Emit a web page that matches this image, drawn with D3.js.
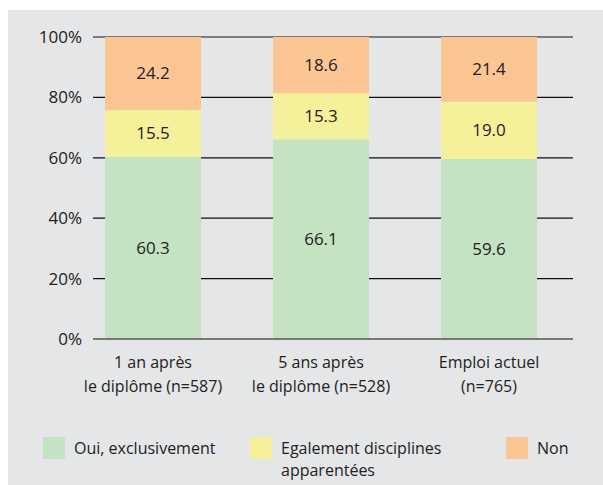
<!DOCTYPE html>
<html><head><meta charset="utf-8">
<script src="https://cdn.jsdelivr.net/npm/d3@7"></script>
<style>body{margin:0;background:#fff}svg{display:block}text{font-family:"Open Sans","Noto Sans",sans-serif;fill:#222}</style>
</head><body><svg id="c" width="603" height="485"></svg>
<script>
const categories = [["1 an après","le diplôme (n=587)"],["5 ans après","le diplôme (n=528)"],["Emploi actuel","(n=765)"]];
const seriesNames = [["Oui, exclusivement"],["Egalement disciplines","apparentées"],["Non"]];
const oui = [60.3, 66.1, 59.6];
const egalement = [15.5, 15.3, 19.0];
const non = [24.2, 18.6, 21.4];
const yTicks = [0, 20, 40, 60, 80, 100];
const colors = ["#c5e3c3", "#f5f19b", "#fcc594"];

const svg = d3.select("#c");
svg.append("rect").attr("x", 8).attr("y", 10).attr("width", 595).attr("height", 475).attr("fill", "#e5e6e8");

const y = d3.scaleLinear().domain([0, 100]).range([339, 37]);
const x = d3.scaleBand().domain(d3.range(3)).range([105, 537]).paddingInner(72/168).paddingOuter(0);

// gridlines
svg.append("g").selectAll("line").data(yTicks.filter(d => d > 0)).join("line")
  .attr("x1", 93).attr("x2", 573).attr("y1", d => y(d)).attr("y2", d => y(d))
  .attr("stroke", "#111").attr("stroke-width", 1.2);

const yAxis = svg.append("g").attr("transform", "translate(93,0)")
  .call(d3.axisLeft(y).tickValues(yTicks).tickFormat(d => d + "%").tickSize(0).tickPadding(11));
yAxis.select(".domain").remove();
yAxis.selectAll("text").attr("font-size", 17).style("fill", "#222").attr("font-family", "'Open Sans','Noto Sans',sans-serif");

const series = [oui, egalement, non];
const stack = d3.stack().keys([0,1,2]).value((d, k) => series[k][d]);
const stacked = stack(d3.range(3));

stacked.forEach((layer, k) => {
  const g = svg.append("g");
  g.selectAll("rect").data(layer).join("rect")
    .attr("x", (d, i) => x(i)).attr("width", x.bandwidth())
    .attr("y", d => y(d[1])).attr("height", d => y(d[0]) - y(d[1]))
    .attr("fill", colors[k]);
  g.selectAll("text").data(layer).join("text")
    .attr("x", (d, i) => x(i) + x.bandwidth()/2)
    .attr("y", d => y((d[0] + d[1]) / 2))
    .attr("dy", "0.35em").attr("text-anchor", "middle").attr("font-size", 17)
    .text((d, i) => series[k][i].toFixed(1));
});

// baseline
svg.append("line").attr("x1", 93).attr("x2", 573).attr("y1", y(0)).attr("y2", y(0))
  .attr("stroke", "#555").attr("stroke-width", 1.6);

// x labels
categories.forEach((lines, i) => {
  const t = svg.append("text").attr("text-anchor", "middle").attr("font-size", 16)
    .attr("x", x(i) + x.bandwidth()/2).attr("y", 367.5);
  lines.forEach((l, j) => t.append("tspan").attr("x", x(i) + x.bandwidth()/2).attr("dy", j ? 24 : 0).text(l));
});

// legend
const legX = [43, 250, 506];
seriesNames.forEach((lines, k) => {
  svg.append("rect").attr("x", legX[k]).attr("y", 437).attr("width", 22).attr("height", 22).attr("fill", colors[k]);
  const t = svg.append("text").attr("font-size", 16).attr("x", legX[k] + 31).attr("y", 454);
  lines.forEach((l, j) => t.append("tspan").attr("x", legX[k] + 31).attr("dy", j ? 21.5 : 0).text(l));
});
</script></body></html>
